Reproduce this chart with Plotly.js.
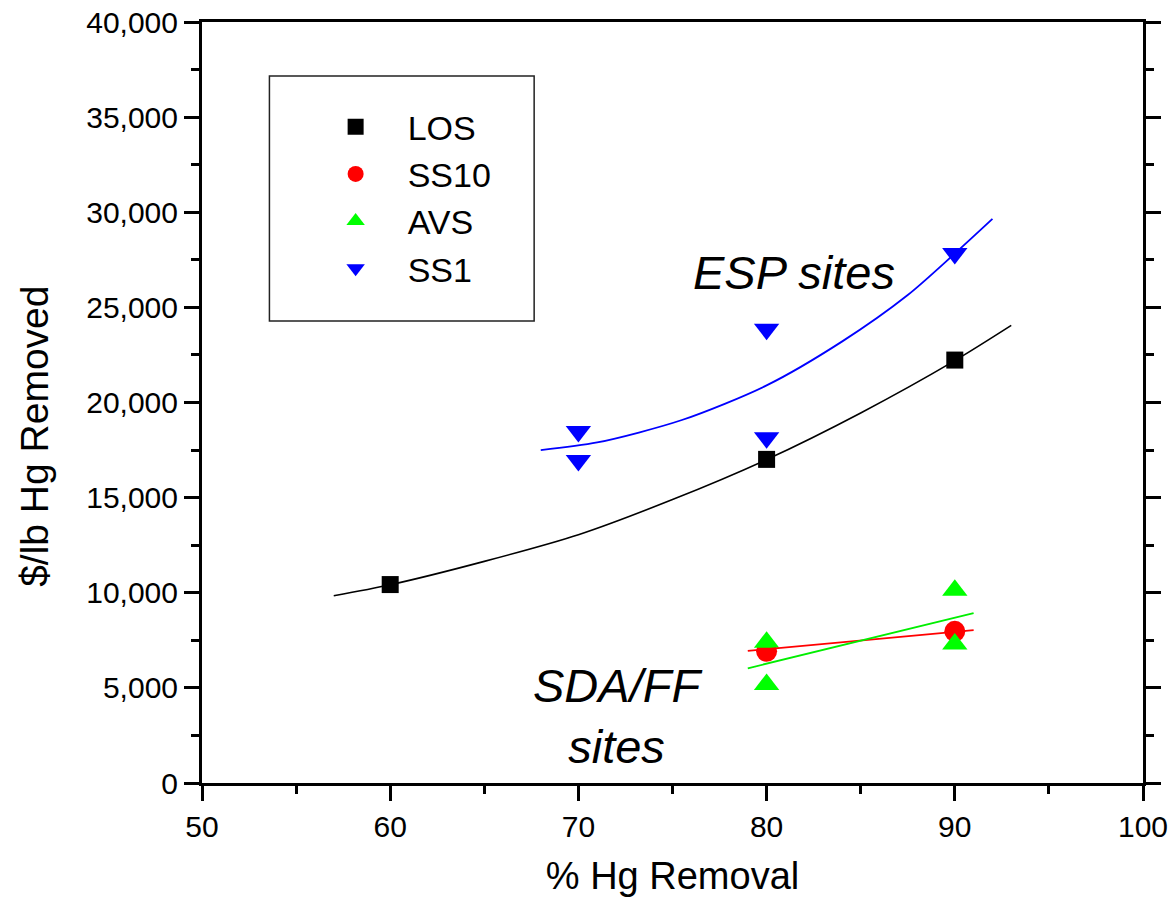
<!DOCTYPE html>
<html>
<head>
<meta charset="utf-8">
<script src="https://cdn.plot.ly/plotly-3.0.1.min.js"></script>
<style>html,body{margin:0;padding:0;background:#fff;}#chart{width:1168px;height:897px;}</style>
</head>
<body>
<div id="chart"></div>
<script>
// Data
var losX = [60, 80, 90];
var losY = [10430, 17010, 22230];

var ss10X = [80, 90];
var ss10Y = [6920, 7970];

var avsX = [80, 80, 90, 90];
var avsY = [7400, 5180, 10130, 7300];

var ss1X = [70, 70, 80, 80, 90];
var ss1Y = [18480, 16950, 23850, 18150, 27830];

// Fitted curves
var losFitX = [57, 60, 65, 70, 75, 80, 85, 90, 93];
var losFitY = [9840, 10420, 11650, 13050, 14900, 17000, 19450, 22200, 24050];

var ss1FitX = [68, 71, 75.5, 80, 84, 87.5, 90, 92];
var ss1FitY = [17500, 17900, 19080, 20900, 23200, 25650, 27830, 29650];

var ss10FitX = [79, 91];
var ss10FitY = [6940, 8040];

var avsFitX = [79, 91];
var avsFitY = [6030, 8935];

var FONT = 'Liberation Sans, Arial, Helvetica, sans-serif';

var traces = [
  {x: losX, y: losY, name: 'LOS', mode: 'markers', type: 'scatter',
   marker: {symbol: 'square', size: 17, color: '#000000'}},
  {x: ss10X, y: ss10Y, name: 'SS10', mode: 'markers', type: 'scatter',
   marker: {symbol: 'circle', size: 21, color: '#ff0000'}},
  {x: avsX, y: avsY, name: 'AVS', mode: 'markers', type: 'scatter',
   marker: {symbol: 'triangle-up', size: 22, color: '#00ff00'}},
  {x: ss1X, y: ss1Y, name: 'SS1', mode: 'markers', type: 'scatter',
   marker: {symbol: 'triangle-down', size: 22, color: '#0000ff'}},
  {x: losFitX, y: losFitY, mode: 'lines', type: 'scatter', showlegend: false,
   line: {color: '#000000', width: 1.6, shape: 'spline', smoothing: 0.8}, hoverinfo: 'skip'},
  {x: ss1FitX, y: ss1FitY, mode: 'lines', type: 'scatter', showlegend: false,
   line: {color: '#0000ff', width: 1.8, shape: 'spline', smoothing: 0.8}, hoverinfo: 'skip'},
  {x: ss10FitX, y: ss10FitY, mode: 'lines', type: 'scatter', showlegend: false,
   line: {color: '#ff0000', width: 1.8}, hoverinfo: 'skip'},
  {x: avsFitX, y: avsFitY, mode: 'lines', type: 'scatter', showlegend: false,
   line: {color: '#00ee00', width: 1.8}, hoverinfo: 'skip'}
];

var layout = {
  width: 1168, height: 897,
  paper_bgcolor: '#ffffff', plot_bgcolor: '#ffffff',
  font: {family: FONT, color: '#000000', size: 30},
  margin: {l: 201.5, r: 24.5, t: 22, b: 114.3, pad: 0},
  showlegend: true,
  legend: {
    x: 0.108, y: 0.90, xanchor: 'left', yanchor: 'top',
    bgcolor: 'rgba(0,0,0,0)', borderwidth: 0,
    font: {family: FONT, size: 34, color: '#000000'},
    itemwidth: 94, tracegroupgap: 0
  },
  xaxis: {
    range: [50, 100], dtick: 10, tick0: 50,
    showgrid: false, zeroline: false,
    showline: true, linecolor: '#000000', linewidth: 3, mirror: true,
    ticks: 'outside', ticklen: 15, tickwidth: 3, tickcolor: '#000000',
    minor: {dtick: 5, ticks: 'outside', ticklen: 8, tickwidth: 3, tickcolor: '#000000', showgrid: false},
    tickfont: {family: FONT, size: 30, color: '#000000'},
    ticklabeloverflow: 'allow',
    title: {text: '% Hg Removal', font: {family: FONT, size: 38, color: '#000000'}, standoff: 24}
  },
  yaxis: {
    range: [0, 40000], dtick: 5000, tick0: 0, tickformat: ',d',
    showgrid: false, zeroline: false,
    showline: true, linecolor: '#000000', linewidth: 3, mirror: 'ticks',
    ticks: 'outside', ticklen: 15, tickwidth: 3, tickcolor: '#000000',
    minor: {dtick: 2500, ticks: 'outside', ticklen: 8, tickwidth: 3, tickcolor: '#000000', showgrid: false},
    tickfont: {family: FONT, size: 30, color: '#000000'},
    ticklabeloverflow: 'allow'
  },
  shapes: [
    {type: 'rect', xref: 'paper', yref: 'paper',
     x0: (269 - 201.5) / 942, x1: (534 - 201.5) / 942,
     y0: (782.7 - 321) / 760.7, y1: (782.7 - 76) / 760.7,
     line: {color: '#222222', width: 1.5}, fillcolor: 'rgba(0,0,0,0)', layer: 'above'}
  ],
  annotations: [
    {x: (33 - 201.5) / 942, y: (782.7 - 436) / 760.7, xref: 'paper', yref: 'paper',
     text: '$/lb Hg Removed', textangle: -90, showarrow: false,
     xanchor: 'center', yanchor: 'middle', font: {family: FONT, size: 39, color: '#000000'}},
    {x: 76.0, y: 26830, xref: 'x', yref: 'y', text: '<i>ESP sites</i>', showarrow: false,
     xanchor: 'left', yanchor: 'middle', font: {family: FONT, size: 47, color: '#000000'}},
    {x: 72.1, y: 3500, xref: 'x', yref: 'y', text: '<i>SDA/FF<br>sites</i>', showarrow: false,
     xanchor: 'center', yanchor: 'middle', align: 'center', font: {family: FONT, size: 47, color: '#000000'}}
  ]
};

Plotly.newPlot('chart', traces, layout, {displayModeBar: false, staticPlot: true});
</script>
</body>
</html>
